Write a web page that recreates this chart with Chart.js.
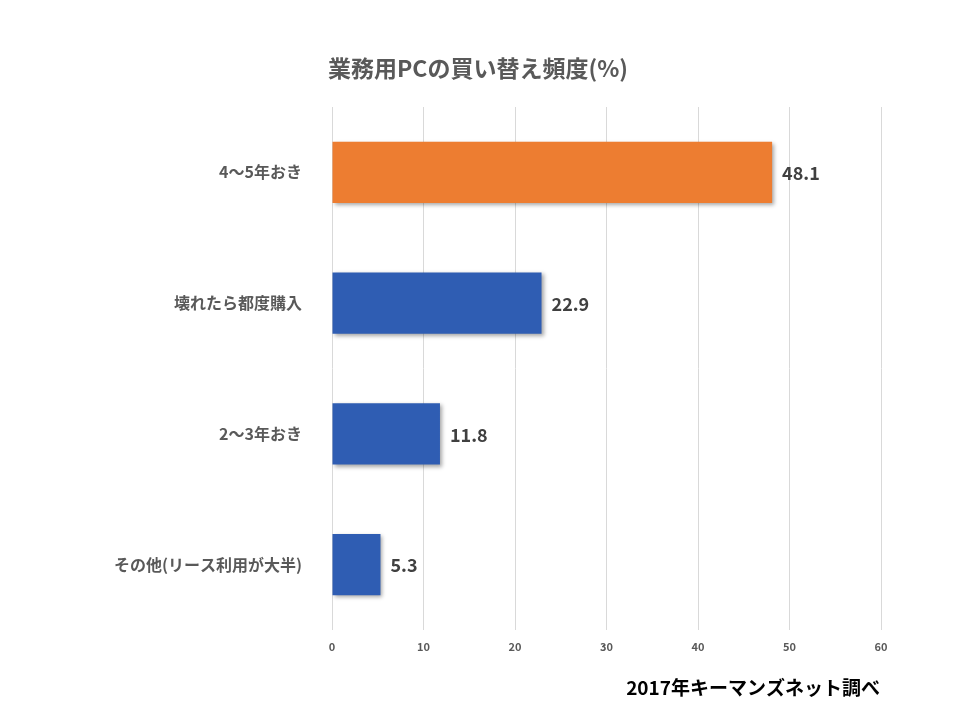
<!DOCTYPE html>
<html>
<head>
<meta charset="utf-8">
<script src="https://cdn.jsdelivr.net/npm/chart.js@4"></script>
<style>
  body { margin: 0; background: #fff; }
  #wrap { width: 960px; height: 720px; }
</style>
</head>
<body>
<div id="wrap"><canvas id="freqChart" width="960" height="720"></canvas></div>
<script>
// --- Chart data ---
const categories = ['4〜5年おき', '壊れたら都度購入', '2〜3年おき', 'その他(リース利用が大半)'];
const percentValues = [48.1, 22.9, 11.8, 5.3];
const xTicks = [0, 10, 20, 30, 40, 50, 60];

const FONT = '"Noto Sans CJK JP", "Noto Sans", sans-serif';

// gradient bar fill: orange for the top item, blue gradient for the rest
function barFill(context) {
    const chart = context.chart;
    const { ctx, chartArea } = chart;
    if (!chartArea) return '#4472C4';
    if (context.dataIndex === 0) return '#ED7D31';
    const el = context.element;
    const h = el && el.height ? el.height : 60;
    const y0 = el && el.y ? el.y - h / 2 : chartArea.top;
    const g = ctx.createLinearGradient(0, y0, 0, y0 + h);
    g.addColorStop(0, '#5B87D6');
    g.addColorStop(1, '#2F5DB3');
    return g;
}

// title, footnote and value labels
const extraText = {
    id: 'extraText',
    afterDatasetsDraw(chart) {
        const { ctx } = chart;
        ctx.save();
        ctx.fillStyle = '#595959';
        ctx.font = 'bold 23px ' + FONT;
        ctx.textAlign = 'center';
        ctx.textBaseline = 'middle';
        ctx.fillText('業務用PCの買い替え頻度(%)', 478, 68);

        ctx.fillStyle = '#000';
        ctx.font = 'bold 19px ' + FONT;
        ctx.textAlign = 'right';
        ctx.fillText('2017年キーマンズネット調べ', 880, 688);

        const meta = chart.getDatasetMeta(0);
        ctx.fillStyle = '#404040';
        ctx.font = 'bold 18px ' + FONT;
        ctx.textAlign = 'left';
        meta.data.forEach((bar, i) => {
            ctx.fillText(percentValues[i].toFixed(1), bar.x + 10, bar.y + 1);
        });
        ctx.restore();
    }
};

// soft shadow under bars
const barShadow = {
    id: 'barShadow',
    beforeDatasetsDraw(chart) {
        const { ctx } = chart;
        ctx.save();
        ctx.shadowColor = 'rgba(0,0,0,0.35)';
        ctx.shadowBlur = 4;
        ctx.shadowOffsetX = 2;
        ctx.shadowOffsetY = 2;
    },
    afterDatasetsDraw(chart) {
        chart.ctx.restore();
    }
};

function initFreqChart(ctxId) {
    const ctx = document.getElementById(ctxId)?.getContext('2d');
    if (!ctx) return;
    new Chart(ctx, {
        type: 'bar',
        data: {
            labels: categories,
            datasets: [{
                data: percentValues,
                backgroundColor: barFill,
                barPercentage: 0.47,
                categoryPercentage: 1.0
            }]
        },
        options: {
            indexAxis: 'y',
            responsive: false,
            animation: false,
            layout: { padding: { top: 107, right: 79, bottom: 0, left: 0 } },
            plugins: {
                legend: { display: false },
                tooltip: { enabled: false }
            },
            scales: {
                x: {
                    min: 0,
                    max: 60,
                    afterBuildTicks(scale) {
                        scale.ticks = xTicks.map(v => ({ value: v }));
                    },
                    afterFit(scale) { scale.height = 90; },
                    border: { display: false },
                    grid: { color: '#D9D9D9', tickLength: 0 },
                    ticks: {
                        padding: 10,
                        color: '#595959',
                        font: { family: FONT, size: 11, weight: 'bold' }
                    }
                },
                y: {
                    afterFit(scale) { scale.width = 332; },
                    border: { display: false },
                    grid: { display: false },
                    ticks: {
                        padding: 22,
                        color: '#595959',
                        font: { family: FONT, size: 16, weight: 'bold' }
                    }
                }
            }
        },
        plugins: [barShadow, extraText]
    });
}

document.addEventListener('DOMContentLoaded', function () {
    initFreqChart('freqChart');
});
</script>
</body>
</html>
